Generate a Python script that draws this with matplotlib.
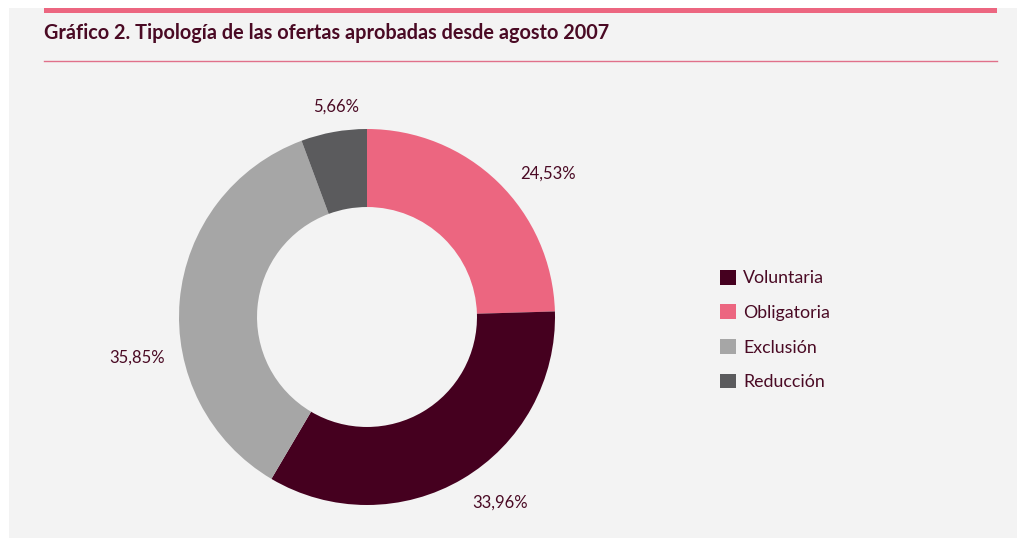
import matplotlib.pyplot as plt
from matplotlib.patches import Rectangle, Patch
from matplotlib.lines import Line2D

# --- datos del gráfico ---
titulo = "Gráfico 2. Tipología de las ofertas aprobadas desde agosto 2007"
categorias_pie = ["Obligatoria", "Voluntaria", "Exclusión", "Reducción"]
porcentajes = [24.53, 33.96, 35.85, 5.66]
colores = {"Voluntaria": "#45001f", "Obligatoria": "#ec6680",
           "Exclusión": "#a6a6a6", "Reducción": "#5b5b5d"}
orden_leyenda = ["Voluntaria", "Obligatoria", "Exclusión", "Reducción"]

# posición de las etiquetas (en radios, respecto al centro)
pos_etiquetas = [(0.963, 0.761), (0.707, -0.989), (-1.223, -0.218), (-0.165, 1.117)]

TXT = "#4a0a24"
fuente = ["Lato", "DejaVu Sans"]
W, H = 1017, 538

fig = plt.figure(figsize=(W / 100, H / 100), dpi=100, facecolor="white")

# panel gris de fondo y barra rosa superior
fig.patches.append(Rectangle((9 / W, 0), 1 - 9 / W, 1 - 8 / H, transform=fig.transFigure,
                             facecolor="#f3f3f3", edgecolor="none", zorder=-2))
fig.patches.append(Rectangle((44 / W, 1 - 13 / H), (997 - 44) / W, 5 / H, transform=fig.transFigure,
                             facecolor="#ec6680", edgecolor="none", zorder=-1))
fig.lines.append(Line2D([44 / W, 997 / W], [1 - 61 / H, 1 - 61 / H], transform=fig.transFigure,
                        color="#e0708a", linewidth=1))
fig.text(44 / W, 1 - 33 / H, titulo, fontsize=14.3, fontweight="bold", color=TXT,
         family=fuente, va="center", ha="left")

# donut
cx, cy, r = 367, 317, 188
ax = fig.add_axes([(cx - r) / W, (H - cy - r) / H, 2 * r / W, 2 * r / H])
ax.set_zorder(3)
ax.set_facecolor("none")
wedges, _, autotexts = ax.pie(
    porcentajes, colors=[colores[c] for c in categorias_pie], startangle=90,
    counterclock=False, radius=1, wedgeprops=dict(width=0.415, linewidth=0),
    autopct=lambda p: f"{p:.2f}%".replace(".", ","), pctdistance=1.22,
    textprops=dict(color=TXT, fontsize=12, family=fuente))
for t, p in zip(autotexts, pos_etiquetas):
    t.set_position(p)
ax.set_xlim(-1, 1)
ax.set_ylim(-1, 1)
ax.set_aspect("equal")
ax.axis("off")

# leyenda
handles = [Patch(facecolor=colores[c], edgecolor="none") for c in orden_leyenda]
leg = fig.legend(handles, orden_leyenda, loc="center left", bbox_to_anchor=(704 / W, 1 - 330 / H),
                 frameon=False, handlelength=0.9, handleheight=0.9, handletextpad=0.4,
                 labelspacing=1.02, prop=dict(family=fuente, size=12.8))
for t in leg.get_texts():
    t.set_color(TXT)

fig.savefig("out.png", dpi=100, facecolor="white")
